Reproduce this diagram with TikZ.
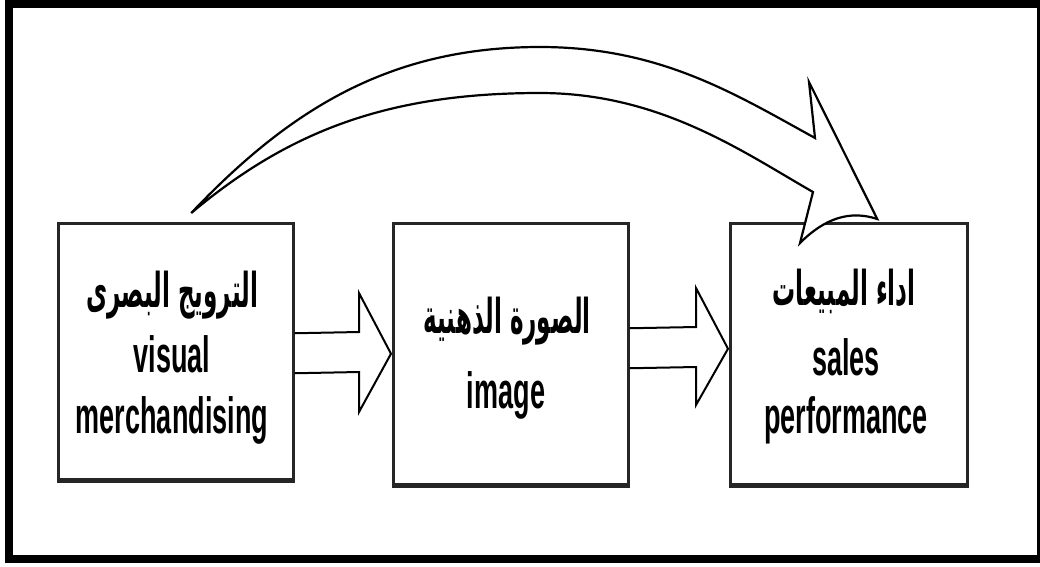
\documentclass[tikz,border=0pt]{standalone}
\usepackage{fontspec}
\usetikzlibrary{calc}
\TeXXeTstate=1
\newfontfamily\latf[FakeStretch=0.53]{Liberation Sans}
\newfontfamily\arfont[Script=Arabic,FakeStretch=0.48]{DejaVu Sans}
\begin{document}
\begin{tikzpicture}[x=1pt,y=-1pt,
  box/.style={draw=black!85, line width=2.5pt, fill=white, inner sep=0pt, anchor=north west},
  lat/.style={font=\latf\bfseries\fontsize{51}{61}\selectfont, anchor=base, inner sep=0pt},
  ar/.style={font=\arfont\bfseries\fontsize{48}{55}\selectfont, anchor=base, inner sep=0pt},
  blockarrow/.style={draw=black, line width=2pt, line join=miter},
  curvearrow/.style={draw=black, line width=2.2pt, line join=miter, fill=white}]
\useasboundingbox (0,0) rectangle (1040,566);
% outer frame
\draw[line width=8pt] (9,3.5) rectangle (1041,559);
% boxes
\node[box, minimum width=235pt, minimum height=256pt] (b1) at (57,222) {};
\node[box, minimum width=235pt, minimum height=261pt] (b2) at (392,222) {};
\node[box, minimum width=237pt, minimum height=261pt] (b3) at (729,222) {};
\draw[line width=4pt, black!85] (b1.south west) -- (b1.south east);
\draw[line width=4pt, black!85] (b2.south west) -- (b2.south east);
\draw[line width=4pt, black!85] (b3.south west) -- (b3.south east);
% texts
\node[ar]  (t1a) at (172,307) {\beginR الترويج البصرى\endR};
\node[lat] (t1b) at (172,372) {visual};
\node[lat] (t1c) at (172,433) {merchandising};
\node[ar]  (t2a) at (507,333) {\beginR الصورة الذهنية\endR};
\node[lat] (t2b) at (506,408) {image};
\node[ar]  (t3a) at (844,305) {\beginR اداء المبيعات\endR};
\node[lat] (t3b) at (846,375) {sales};
\node[lat] (t3c) at (846,433) {performance};
% straight block arrows
\draw[blockarrow] ($(b1.east)+(0,-18)$) -- (359,332) -- (359,293) -- ($(b2.west)+(-1,0)$)
  -- (359,412) -- (359,372) -- ($(b1.east)+(0,22)$);
\draw[blockarrow] ($(b2.east)+(0,-25.5)$) -- (696,327) -- (696,288) -- ($(b3.west)+(-1,-5)$)
  -- (696,405) -- (696,367) -- ($(b2.east)+(0,14.5)$);
% curved block arrow
\coordinate (tail) at ($(b1.north)+(15.5,-9)$);
\coordinate (tip) at ($(b3.north)+(28.5,-3)$);
\draw[curvearrow] (tail) .. controls (290,109) and (390,47) .. (540,47)
  .. controls (660,47) and (735,94) .. (815,138) -- (809,82) -- (tip)
  .. controls (850,210) and (825,218) .. (800,243) -- (813,192)
  .. controls (743,152) and (660,93) .. (540,93)
  .. controls (390,93) and (290,130) .. (tail) -- cycle;
\end{tikzpicture}
\end{document}
